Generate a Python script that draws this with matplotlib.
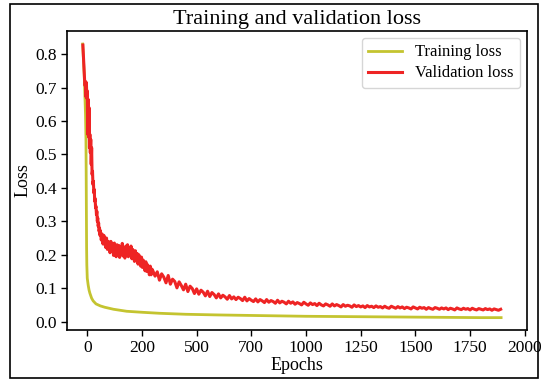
import matplotlib
matplotlib.use('Agg')
import matplotlib.pyplot as plt
from matplotlib.patches import Rectangle

plt.rcParams['font.family'] = ['Liberation Serif', 'DejaVu Serif']

# ---------------- data ----------------
train_epochs = [-21, -14, -8, -6, -5, -4, -3, -2, 0, 4, 8, 12, 20, 27, 40, 60, 80, 120,
                180, 250, 330, 450, 600, 800, 1000, 1200, 1400, 1600, 1800, 1892]
train_loss = [0.83, 0.74, 0.62, 0.55, 0.45, 0.33, 0.22, 0.17, 0.13, 0.11, 0.095, 0.085,
              0.07, 0.062, 0.053, 0.047, 0.043, 0.037, 0.031, 0.028, 0.025, 0.022, 0.020,
              0.018, 0.016, 0.015, 0.014, 0.013, 0.012, 0.012]

val_loss_early = [0.827, 0.800, 0.770, 0.745, 0.720, 0.705, 0.718, 0.672, 0.715, 0.668,
                  0.690, 0.560, 0.665, 0.552, 0.640, 0.520, 0.560, 0.505, 0.545, 0.470,
                  0.520, 0.440, 0.450, 0.410, 0.420, 0.385, 0.395, 0.360, 0.368, 0.340,
                  0.345, 0.320, 0.330, 0.300, 0.310, 0.285, 0.295, 0.270, 0.280, 0.258]
val_loss_mid = [0.272, 0.244, 0.262, 0.232, 0.258, 0.240, 0.222, 0.250, 0.216, 0.240,
                0.232, 0.206, 0.240, 0.214, 0.232, 0.198, 0.235, 0.210, 0.194, 0.230,
                0.206, 0.228, 0.192, 0.224, 0.200, 0.234, 0.196, 0.218, 0.190, 0.226,
                0.202, 0.230, 0.194, 0.222, 0.198, 0.226, 0.188, 0.216, 0.192, 0.180,
                0.212, 0.184, 0.204, 0.172, 0.200, 0.178, 0.166, 0.193, 0.162, 0.184,
                0.176, 0.152, 0.179, 0.150, 0.170, 0.155, 0.140, 0.166, 0.140, 0.157]
val_loss_late = [0.152, 0.136, 0.149, 0.124, 0.143, 0.133, 0.116, 0.138, 0.112, 0.127,
                 0.120, 0.101, 0.119, 0.108, 0.095, 0.112, 0.090, 0.106, 0.099, 0.084,
                 0.098, 0.082, 0.094, 0.088, 0.077, 0.091, 0.075, 0.087, 0.081, 0.071,
                 0.083, 0.071, 0.079, 0.074, 0.067, 0.078, 0.068, 0.074, 0.066, 0.073,
                 0.069, 0.063, 0.073, 0.062, 0.069, 0.064, 0.060, 0.068, 0.059, 0.066,
                 0.062, 0.057, 0.066, 0.058, 0.063, 0.060, 0.055, 0.064, 0.056, 0.061,
                 0.058, 0.053, 0.061, 0.055, 0.059, 0.052, 0.057, 0.054, 0.050, 0.058,
                 0.053, 0.049, 0.056, 0.051, 0.054, 0.048, 0.055, 0.050, 0.047, 0.053,
                 0.050, 0.046, 0.053, 0.047, 0.051, 0.048, 0.044, 0.051, 0.046, 0.049,
                 0.047, 0.043, 0.050, 0.045, 0.048, 0.044, 0.047, 0.042, 0.048, 0.044,
                 0.046, 0.042, 0.047, 0.043, 0.045, 0.041, 0.046, 0.042, 0.040, 0.046,
                 0.043, 0.040, 0.045, 0.041, 0.044, 0.039, 0.043, 0.041, 0.038, 0.044,
                 0.041, 0.038, 0.043, 0.040, 0.042, 0.037, 0.042, 0.039, 0.037, 0.042,
                 0.040, 0.037, 0.041, 0.038, 0.041, 0.036, 0.040, 0.038, 0.035, 0.041,
                 0.038, 0.036, 0.040, 0.037, 0.039, 0.035, 0.040, 0.037, 0.035, 0.039,
                 0.037, 0.035, 0.039, 0.036, 0.038, 0.034, 0.038, 0.036, 0.034, 0.037]

val_epochs = (list(range(-20, -20 + 2 * len(val_loss_early), 2))
              + list(range(60, 60 + 4 * len(val_loss_mid), 4))
              + list(range(300, 300 + 10 * len(val_loss_late), 10)))
val_loss = val_loss_early + val_loss_mid + val_loss_late

x_tick_pos = [0, 250, 500, 750, 1000, 1250, 1500, 1750, 2000]
x_tick_labels = ['0', '200', '500', '700', '1000', '1250', '1500', '1750', '2000']
y_ticks = [0.0, 0.1, 0.2, 0.3, 0.4, 0.5, 0.6, 0.7, 0.8]

# ---------------- plot ----------------
fig = plt.figure(figsize=(5.5, 3.88), dpi=100)
ax = fig.add_axes([66.7 / 550, 58 / 388, 460 / 550, 299 / 388])

ax.plot(train_epochs, train_loss, color='#c4c430', lw=2.0, label='Training loss')
ax.plot(val_epochs, val_loss, color='#ee2424', lw=2.2, label='Validation loss')

ax.set_xlim(-94, 2009)
ax.set_ylim(-0.025, 0.869)
ax.set_xticks(x_tick_pos)
ax.set_xticklabels(x_tick_labels)
ax.set_yticks(y_ticks)
ax.set_yticklabels([f'{v:.1f}' for v in y_ticks])
ax.tick_params(labelsize=12.5, width=1.0, length=4, color='black', pad=3)
for s in ax.spines.values():
    s.set_linewidth(1.2)
    s.set_color('black')

ax.set_title('Training and validation loss', fontsize=16, pad=5)
ax.set_xlabel('Epochs', fontsize=13, labelpad=1)
ax.set_ylabel('Loss', fontsize=13, labelpad=3)
ax.legend(loc='upper right', fontsize=12, handlelength=2.0, labelspacing=0.3,
          borderaxespad=0.4)

fig.patches.append(Rectangle((10 / 550, 10 / 388), 528 / 550, 374 / 388,
                             transform=fig.transFigure, fill=False,
                             edgecolor='black', lw=1.2))

fig.savefig('out.png', dpi=100)
